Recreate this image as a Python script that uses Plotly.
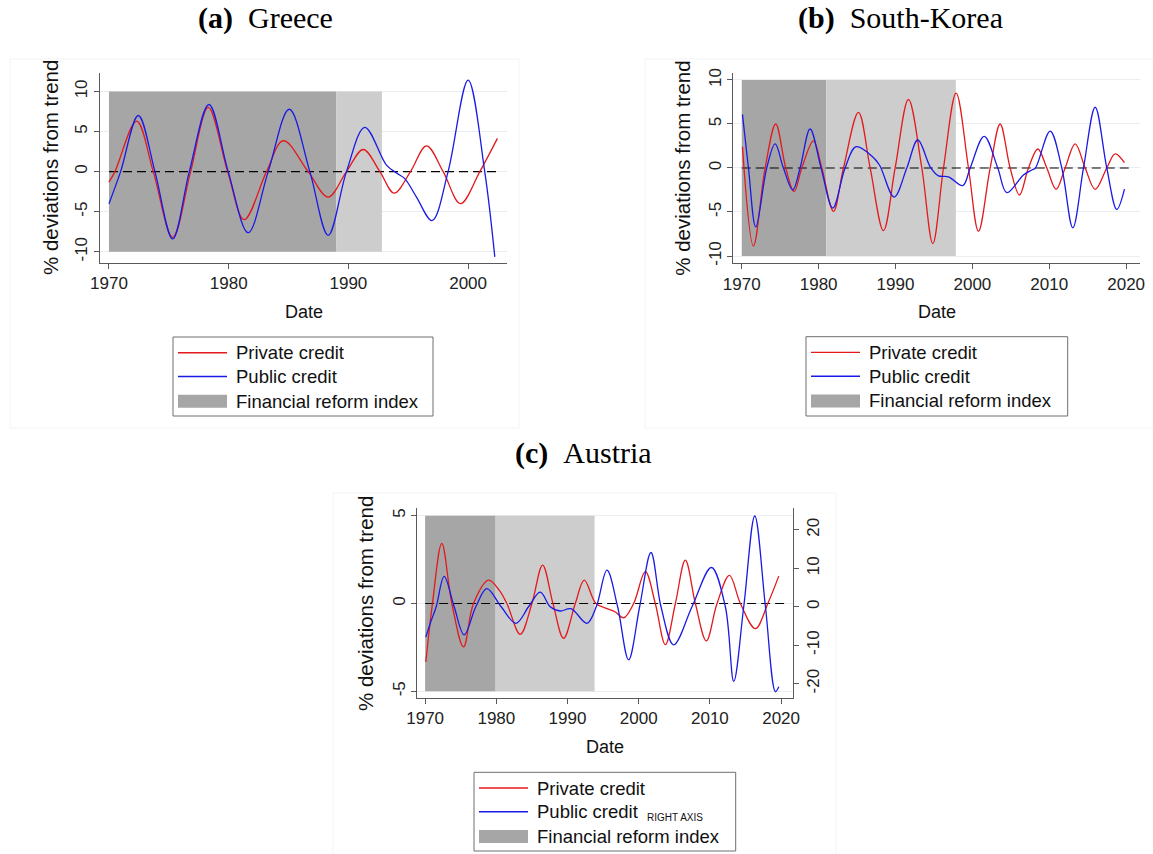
import plotly.graph_objects as go

W, H = 1153, 854

# ---------------- data ----------------
# (a) Greece
gr_priv_x = [1970.0, 1970.5, 1972.31, 1973.7, 1975.32, 1976.82, 1978.29, 1979.91, 1981.3, 1983.16,
             1984.56, 1986.64, 1988.31, 1989.84, 1991.24, 1992.63, 1993.82, 1995.19, 1996.52,
             1997.92, 1999.36, 2000.98, 2002.45]
gr_priv_y = [-1.3, 0.0, 6.3, 0.0, -8.2, 0.0, 8.0, 0.0, -6.0, 0.0,
             3.85, 0.0, -3.18, 0.0, 2.76, 0.0, -2.68, 0.0, 3.22,
             0.0, -4.0, 0.0, 4.14]
gr_pub_x = [1970.0, 1970.97, 1972.45, 1973.84, 1975.32, 1976.71, 1978.35, 1979.96, 1981.63, 1983.3,
            1985.06, 1986.78, 1988.31, 1989.84, 1991.37, 1993.18, 1994.02, 1994.71, 1995.69,
            1996.99, 1998.33, 2000.0, 2001.39, 2002.23]
gr_pub_y = [-4.0, 0.0, 7.0, 0.0, -8.4, 0.0, 8.37, 0.0, -7.62, 0.0,
            7.78, 0.0, -7.95, 0.0, 5.52, 0.8, -0.17, -0.88, -3.18,
            -6.11, 0.0, 11.4, 0.0, -10.63]
gr_reform_dark = [1970.0, 1989.0]
gr_reform_light = [1989.0, 1992.8]
gr_band = [-10, 10]
gr_zero_span = [1970.0, 2002.55]

# (b) South-Korea
kr_priv_x = [1970.09, 1971.52, 1973.04, 1974.42, 1975.72, 1976.81, 1977.81, 1979.32, 1980.41, 1981.93,
             1983.23, 1985.18, 1986.7, 1988.43, 1989.95, 1991.68, 1993.42, 1994.85, 1996.24,
             1997.88, 1999.49, 2000.79, 2002.31, 2003.61, 2004.91, 2006.12, 2007.29, 2008.51,
             2009.68, 2010.89, 2012.06, 2013.37, 2014.67, 2015.97, 2017.48, 2018.57, 2019.78]
kr_priv_y = [2.42, -8.86, 0.0, 5.0, 0.0, -2.68, 0.0, 3.07, 0.0, -4.92,
             0.0, 6.32, 0.0, -7.12, 0.0, 7.8, 0.0, -8.6, 0.0,
             8.5, 0.0, -7.2, 0.0, 5.0, 0.0, -3.07, 0.0, 2.16,
             0.0, -2.42, 0.0, 2.73, 0.0, -2.42, 0.0, 1.6, 0.6]
kr_pub_x = [1970.09, 1970.87, 1971.82, 1973.25, 1974.34, 1975.42, 1976.63, 1977.59, 1978.89, 1980.32,
            1981.84, 1983.44, 1984.87, 1986.91, 1987.91, 1989.82, 1991.47, 1992.9, 1994.59,
            1995.59, 1996.89, 1998.75, 1999.71, 2001.53, 2003.3, 2004.48, 2006.64, 2007.73,
            2008.2, 2010.11, 2011.63, 2013.06, 2014.45, 2015.97, 2017.48, 2018.78, 2019.78]
kr_pub_y = [6.1, 0.0, -6.7, 0.0, 2.73, 0.0, -2.5, 0.0, 4.43, 0.0,
            -4.55, 0.0, 2.42, 1.36, 0.34, -3.3, 0.0, 3.18, 0.0,
            -0.9, -1.0, -2.0, 0.0, 3.6, 0.0, -2.8, -0.8, -0.23,
            0.0, 4.2, 0.0, -6.8, 0.0, 6.9, 0.0, -4.7, -2.4]
kr_reform_dark = [1970.0, 1981.0]
kr_reform_light = [1981.0, 1997.85]
kr_band = [-10, 10]
kr_zero_span = [1970.0, 2020.8]

# (c) Austria
at_priv_x = [1970.1, 1971.03, 1972.34, 1973.75, 1975.39, 1976.79, 1978.9, 1980.4, 1981.48, 1983.36,
             1985.0, 1986.5, 1987.95, 1989.45, 1991.09, 1992.35, 1993.99, 1995.54, 1996.71,
             1997.88, 1999.29, 2000.93, 2002.33, 2003.74, 2005.15, 2006.55, 2007.96, 2009.5,
             2011.0, 2012.74, 2014.28, 2016.39, 2018.13, 2019.67]
at_priv_y = [-3.33, 0.0, 3.42, 0.0, -2.47, 0.0, 1.33, 0.76, 0.0, -1.75,
             0.0, 2.19, 0.0, -1.98, 0.0, 1.33, 0.0, -0.29, -0.48,
             -0.82, 0.0, 1.81, 0.0, -2.34, 0.0, 2.47, 0.0, -2.13,
             0.0, 1.6, 0.0, -1.43, 0.0, 1.56]
at_pub_x = [1970.1, 1970.7, 1971.55, 1972.67, 1974.08, 1975.48, 1977.12, 1978.67, 1980.68, 1982.75,
            1984.53, 1986.17, 1987.57, 1988.98, 1990.48, 1992.73, 1994.04, 1995.54, 1997.04,
            1998.58, 2000.13, 2001.72, 2003.13, 2004.91, 2007.49, 2010.21, 2012.17, 2013.35,
            2014.75, 2016.3, 2017.8, 2019.2, 2019.67]
at_pub_y = [-7.9, -4.4, 0.0, 7.9, 0.0, -7.3, 0.0, 4.7, 0.0, -4.3,
            0.0, 3.8, 0.0, -1.1, -0.5, -4.3, 0.0, 9.5, 0.0,
            -13.8, 0.0, 14.1, 0.0, -9.9, 0.0, 10.2, 0.0, -19.4,
            0.0, 23.6, 0.0, -22.1, -20.8]
at_reform_dark = [1970.0, 1979.9]
at_reform_light = [1979.9, 1993.8]
at_band = [-5, 5]
at_zero_span = [1970.0, 2020.8]

# tick values / labels
x_ticks_a = [1970, 1980, 1990, 2000]
x_ticks_bc = [1970, 1980, 1990, 2000, 2010, 2020]
y_ticks_ab = [-10, -5, 0, 5, 10]
y_ticktext_ab = ["-10", "-5", "0", "5", "10"]
y_ticks_c = [-5, 0, 5]
y_ticktext_c = ["-5", "0", "5"]
y2_ticks_c = [-20, -10, 0, 10, 20]
y2_ticktext_c = ["-20", "-10", "0", "10", "20"]

panel_titles = ["<b>(a)</b>&nbsp;&nbsp;Greece", "<b>(b)</b>&nbsp;&nbsp;South-Korea", "<b>(c)</b>&nbsp;&nbsp;Austria"]
legend_labels = ["Private credit", "Public credit", "Financial reform index"]
right_axis_note = "RIGHT AXIS"
ytitle = "% deviations from trend"
xtitle = "Date"

# ---------------- styling ----------------
RED = "#e3191c"
BLUE = "#1a1ae6"
DARK = "#a6a6a6"
LIGHT = "#cdcdcd"
SANS = "Liberation Sans, Arial, sans-serif"
SERIF = "Liberation Serif, Times New Roman, serif"


def px_x(p):
    return p / W


def px_y(p):
    return 1 - p / H


fig = go.Figure()


def add_panel(xa, ya, ya_pub, px_, py_, qx, qy, dark, light, band, zspan):
    for span, col in [(dark, DARK), (light, LIGHT)]:
        fig.add_trace(go.Scatter(
            x=[span[0], span[1], span[1], span[0], span[0]],
            y=[band[0], band[0], band[1], band[1], band[0]],
            fill="toself", fillcolor=col, mode="lines", line=dict(width=0, color=col),
            xaxis=xa, yaxis=ya, name=legend_labels[2], showlegend=False, hoverinfo="skip"))
    fig.add_trace(go.Scatter(x=zspan, y=[0, 0], mode="lines",
                             line=dict(color="black", width=1.2, dash="9px,5px"),
                             xaxis=xa, yaxis=ya, showlegend=False, hoverinfo="skip"))
    fig.add_trace(go.Scatter(x=px_, y=py_, mode="lines", name=legend_labels[0], showlegend=False,
                             line=dict(color=RED, width=1.3, shape="spline", smoothing=1.0),
                             xaxis=xa, yaxis=ya))
    fig.add_trace(go.Scatter(x=qx, y=qy, mode="lines", name=legend_labels[1], showlegend=False,
                             line=dict(color=BLUE, width=1.3, shape="spline", smoothing=1.0),
                             xaxis=xa, yaxis=ya_pub))


add_panel("x", "y", "y", gr_priv_x, gr_priv_y, gr_pub_x, gr_pub_y,
          gr_reform_dark, gr_reform_light, gr_band, gr_zero_span)
add_panel("x2", "y2", "y2", kr_priv_x, kr_priv_y, kr_pub_x, kr_pub_y,
          kr_reform_dark, kr_reform_light, kr_band, kr_zero_span)
add_panel("x3", "y3", "y4", at_priv_x, at_priv_y, at_pub_x, at_pub_y,
          at_reform_dark, at_reform_light, at_band, at_zero_span)

axis_common = dict(showline=True, linecolor="#5a5a5a", linewidth=1, ticks="outside", ticklen=5,
                   tickcolor="#5a5a5a", tickwidth=1, zeroline=False,
                   tickfont=dict(family=SANS, size=17, color="#222"))

xa_common = dict(axis_common, showgrid=False)
ya_common = dict(axis_common, showgrid=True, gridcolor="#e9eef2", gridwidth=1, tickangle=-90)

fig.update_layout(
    width=W, height=H, margin=dict(l=0, r=0, t=0, b=0, autoexpand=False),
    paper_bgcolor="white", plot_bgcolor="white", showlegend=False,
    xaxis=dict(xa_common, domain=[px_x(100), px_x(507)], range=[1969.25, 2003.25],
               tickvals=x_ticks_a, anchor="y"),
    yaxis=dict(ya_common, domain=[px_y(263), px_y(73)], range=[-11.4, 12.3],
               tickvals=y_ticks_ab, ticktext=y_ticktext_ab, anchor="x"),
    xaxis2=dict(xa_common, domain=[px_x(733.3), px_x(1140)], range=[1968.9, 2021.8],
                tickvals=x_ticks_bc, anchor="y2"),
    yaxis2=dict(ya_common, domain=[px_y(263.3), px_y(73.3)], range=[-10.83, 10.76],
                tickvals=y_ticks_ab, ticktext=y_ticktext_ab, anchor="x2"),
    xaxis3=dict(xa_common, domain=[px_x(417.3), px_x(792.5)], range=[1968.9, 2021.6],
                tickvals=x_ticks_bc, anchor="y3"),
    yaxis3=dict(ya_common, domain=[px_y(697.5), px_y(508.3)], range=[-5.35, 5.42],
                tickvals=y_ticks_c, ticktext=y_ticktext_c, anchor="x3"),
    yaxis4=dict(axis_common, showgrid=False, tickangle=-90, overlaying="y3", side="right",
                anchor="x3", range=[-23.6, 25.6], tickvals=y2_ticks_c, ticktext=y2_ticktext_c),
)

annotations = []
shapes = []
# panel titles
for txt, cx, cy in zip(panel_titles, [265, 900, 583], [18, 18, 453]):
    annotations.append(dict(text=txt, x=px_x(cx), y=px_y(cy), xref="paper", yref="paper",
                            xanchor="center", yanchor="middle", showarrow=False,
                            font=dict(family=SERIF, size=30, color="black")))
# axis titles
for cx, cy in [(50, 168), (681.7, 168), (365, 604)]:
    annotations.append(dict(text=ytitle, x=px_x(cx), y=px_y(cy), xref="paper", yref="paper",
                            xanchor="center", yanchor="middle", textangle=-90, showarrow=False,
                            font=dict(family=SANS, size=20.5, color="#111")))
for cx, cy in [(303.5, 311.7), (936.7, 311.7), (604.7, 746.7)]:
    annotations.append(dict(text=xtitle, x=px_x(cx), y=px_y(cy), xref="paper", yref="paper",
                            xanchor="center", yanchor="middle", showarrow=False,
                            font=dict(family=SANS, size=18, color="#111")))

# faint graph-region borders
for x0, y0, x1, y1 in [(10, 59, 519, 428), (645, 59, 1160, 428), (333, 493, 836, 860)]:
    shapes.append(dict(type="rect", xref="paper", yref="paper",
                       x0=px_x(x0), x1=px_x(x1), y0=px_y(y1), y1=px_y(y0),
                       line=dict(color="#f1f3f5", width=1), layer="below"))

# legends (box, keys and labels), one per panel: (left, top, right, bottom)
legend_boxes = [(173, 337, 433, 416), (806, 336.7, 1067.7, 416), (474, 772.3, 735.7, 851)]
for (l, t, r, b) in legend_boxes:
    shapes.append(dict(type="rect", xref="paper", yref="paper", x0=px_x(l), x1=px_x(r),
                       y0=px_y(b), y1=px_y(t), line=dict(color="#6e6e6e", width=1),
                       fillcolor="white", layer="above"))
    rows = [t + 15.7, t + 39.5, t + 64.2]
    for col, ry in zip([RED, BLUE], rows[:2]):
        shapes.append(dict(type="line", xref="paper", yref="paper", x0=px_x(l + 5), x1=px_x(l + 54),
                           y0=px_y(ry), y1=px_y(ry), line=dict(color=col, width=1.4), layer="above"))
    shapes.append(dict(type="rect", xref="paper", yref="paper", x0=px_x(l + 5), x1=px_x(l + 54),
                       y0=px_y(rows[2] + 6.5), y1=px_y(rows[2] - 6.5), line=dict(width=0),
                       fillcolor=DARK, layer="above"))
    for lab, ry in zip(legend_labels, rows):
        annotations.append(dict(text=lab, x=px_x(l + 61), y=px_y(ry), xref="paper", yref="paper",
                                xanchor="left", yanchor="middle", showarrow=False,
                                font=dict(family=SANS, size=18.5, color="#111")))
# small "RIGHT AXIS" note after "Public credit" in legend (c)
annotations.append(dict(text=right_axis_note, x=px_x(645), y=px_y(817.5), xref="paper", yref="paper",
                        xanchor="left", yanchor="middle", showarrow=False,
                        font=dict(family=SANS, size=10, color="#111")))

fig.update_layout(annotations=annotations, shapes=shapes)

fig.write_html("out.html")
